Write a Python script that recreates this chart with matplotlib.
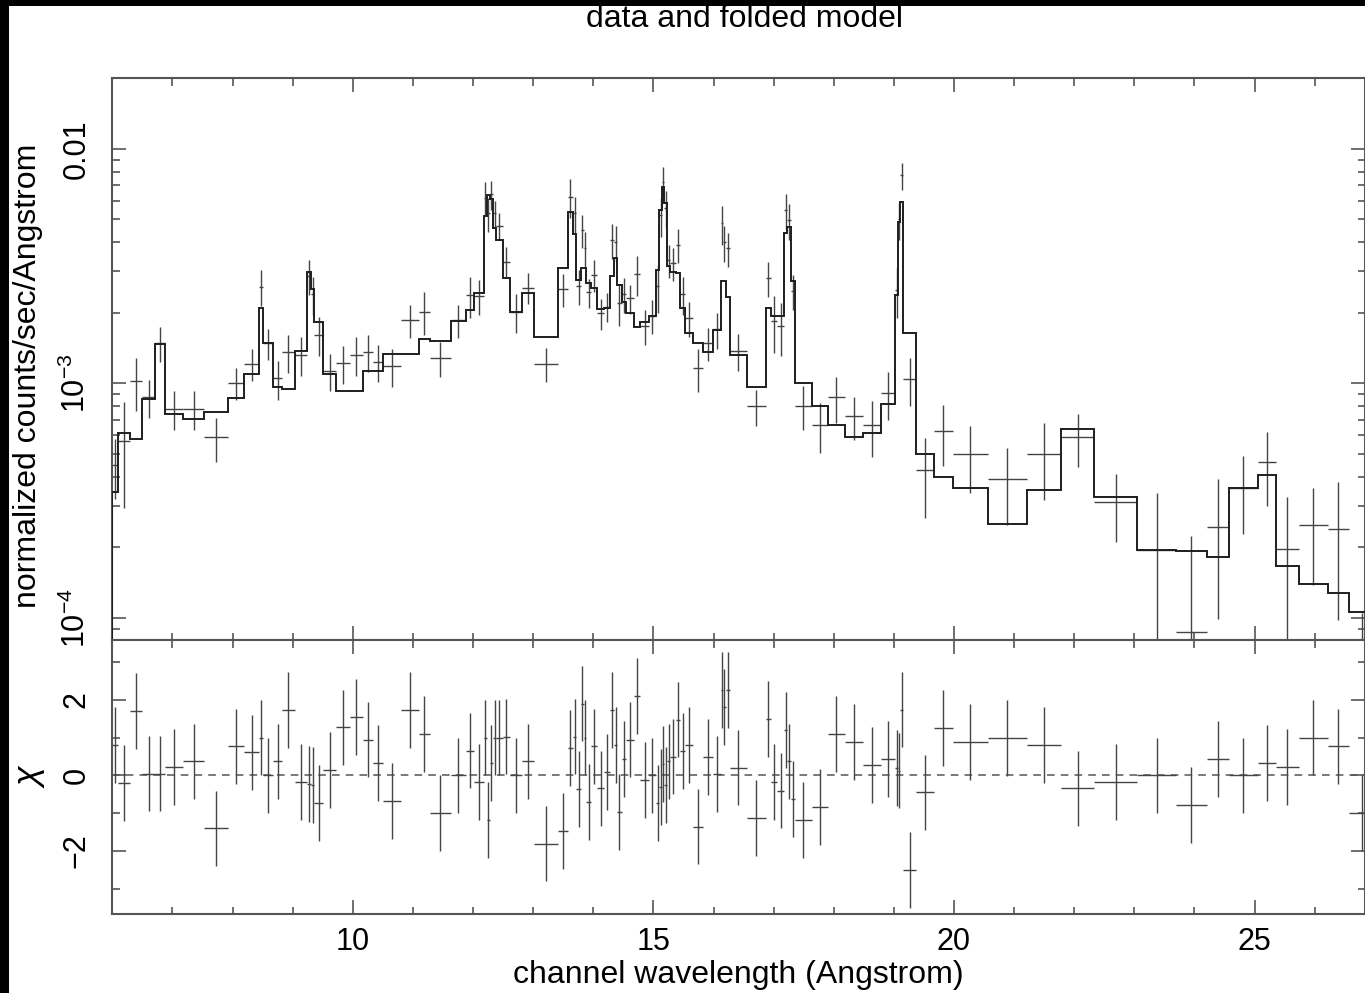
import numpy as np
import matplotlib
matplotlib.use('Agg')
import matplotlib.pyplot as plt
from matplotlib.ticker import MultipleLocator, LogLocator, FixedLocator, FixedFormatter, NullFormatter
from matplotlib.patches import Rectangle

plt.rcParams['font.family'] = ['Liberation Sans', 'DejaVu Sans']
plt.rcParams['mathtext.fontset'] = 'custom'
plt.rcParams['mathtext.rm'] = 'Liberation Sans'
plt.rcParams['mathtext.it'] = 'Liberation Sans:italic'

# channel bin edges (Angstrom)
edges = np.array([
    6.00, 6.10, 6.29, 6.50, 6.71, 6.88, 7.18, 7.53, 7.92, 8.19,
    8.44, 8.51, 8.68, 8.82, 9.04, 9.23, 9.30, 9.36, 9.51, 9.72,
    9.95, 10.17, 10.33, 10.50, 10.80, 11.10, 11.28, 11.63, 11.88, 12.01,
    12.18, 12.23, 12.28, 12.33, 12.39, 12.49, 12.61, 12.82, 13.01, 13.41,
    13.58, 13.66, 13.72, 13.80, 13.84, 13.88, 13.97, 14.07, 14.18, 14.28,
    14.34, 14.40, 14.47, 14.55, 14.67, 14.78, 14.93, 15.04, 15.10, 15.14,
    15.18, 15.23, 15.28, 15.38, 15.45, 15.52, 15.66, 15.82, 15.99, 16.13,
    16.16, 16.20, 16.27, 16.55, 16.87, 16.95, 17.06, 17.18, 17.23, 17.29,
    17.36, 17.63, 17.91, 18.18, 18.49, 18.78, 19.02, 19.07, 19.11, 19.16,
    19.37, 19.67, 19.98, 20.56, 21.22, 21.78, 22.33, 23.05, 23.69, 24.21,
    24.58, 25.05, 25.35, 25.74, 26.22, 26.57, 27.01])

# folded model, units of 1e-3 counts/sec/Angstrom
model = np.array([
    0.344, 0.612, 0.577, 0.854, 1.474, 0.739, 0.703, 0.752, 0.867, 1.091,
    2.10, 1.48, 0.966, 0.943, 1.37, 2.97, 2.52, 1.83, 1.10, 0.926,
    0.926, 1.127, 1.127, 1.34, 1.34, 1.54, 1.51, 1.85, 2.05, 2.42,
    5.17, 6.35, 6.10, 4.60, 4.08, 2.80, 2.02, 2.42, 1.58, 3.11,
    5.38, 4.32, 2.76, 3.11, 3.11, 2.68, 2.54, 2.08, 2.10, 2.87,
    3.43, 2.62, 2.23, 2.00, 1.74, 1.82, 1.94, 3.04, 5.48, 6.88,
    5.85, 3.16, 2.99, 2.94, 2.10, 1.64, 1.48, 1.36, 1.69, 2.73,
    2.73, 2.34, 1.32, 0.96, 2.10, 1.94, 1.94, 4.38, 4.63, 2.74,
    1.00, 0.80, 0.664, 0.591, 0.615, 0.815, 2.38, 4.88, 5.94, 1.64,
    0.497, 0.397, 0.358, 0.252, 0.352, 0.639, 0.329, 0.195, 0.193, 0.182,
    0.358, 0.407, 0.166, 0.139, 0.128, 0.106])

# data, units of 1e-3
data = np.array([
    0.45, 0.565, 1.02, 0.87, 1.48, 0.78, 0.78, 0.588, 1.005, 1.21,
    2.58, 1.48, 1.05, 1.36, 1.32, 2.87, 2.40, 1.61, 1.13, 1.216,
    1.32, 1.36, 1.23, 1.18, 1.86, 2.02, 1.285, 1.86, 2.37, 2.35,
    6.2, 5.3, 6.4, 5.3, 4.7, 3.3, 2.02, 2.56, 1.21, 2.52,
    6.25, 5.3, 2.6, 4.5, 3.76, 2.44, 2.9, 1.99, 2.12, 4.08,
    4.0, 2.2, 2.4, 2.3, 2.92, 1.76, 1.94, 2.6, 5.2, 7.2,
    5.6, 3.35, 3.25, 3.89, 2.4, 1.9, 1.157, 1.48, 1.70, 4.81,
    4.0, 3.76, 1.38, 0.80, 2.82, 1.85, 1.76, 5.5, 4.95, 2.48,
    0.80, 0.664, 0.87, 0.725, 0.664, 0.906, 2.5, 5.0, 7.7, 1.04,
    0.426, 0.626, 0.497, 0.389, 0.499, 0.588, 0.311, 0.195, 0.087, 0.244,
    0.358, 0.46, 0.197, 0.248, 0.238, 0.06])

err = np.array([
    0.13, 0.27, 0.26, 0.16, 0.25, 0.15, 0.15, 0.125, 0.16, 0.19,
    0.45, 0.22, 0.20, 0.25, 0.25, 0.48, 0.45, 0.30, 0.20, 0.22,
    0.25, 0.24, 0.22, 0.22, 0.30, 0.42, 0.22, 0.30, 0.48, 0.40,
    1.0, 0.9, 0.9, 0.7, 0.6, 0.5, 0.38, 0.38, 0.20, 0.40,
    1.2, 0.95, 0.45, 0.73, 0.65, 0.35, 0.45, 0.30, 0.30, 0.70,
    0.70, 0.44, 0.40, 0.32, 0.56, 0.30, 0.32, 0.60, 1.0, 1.2,
    1.0, 0.55, 0.52, 0.64, 0.45, 0.32, 0.24, 0.24, 0.30, 0.92,
    0.70, 0.63, 0.25, 0.14, 0.48, 0.50, 0.45, 0.94, 0.86, 0.42,
    0.17, 0.16, 0.19, 0.15, 0.18, 0.21, 0.6, 0.9, 1.0, 0.24,
    0.16, 0.18, 0.158, 0.14, 0.18, 0.15, 0.10, 0.145, 0.136, 0.145,
    0.13, 0.16, 0.13, 0.11, 0.14, 0.045])

# residuals in sigma
chi = np.array([
    0.8, -0.2, 1.7, 0.05, 0.05, 0.22, 0.37, -1.4, 0.77, 0.61,
    1.0, 0.0, 0.37, 1.73, -0.18, -0.22, -0.25, -0.73, 0.15, 1.27,
    1.55, 0.95, 0.33, -0.68, 1.73, 1.1, -1.0, 0.0, 0.66, -0.18,
    1.0, -1.18, 0.33, 1.0, 1.0, 1.03, 0.0, 0.37, -1.8, -1.46,
    0.73, 1.03, -0.35, 1.9, 1.0, -0.7, 0.77, -0.34, 0.1, 1.73,
    0.8, -0.96, 0.43, 0.95, 2.1, -0.12, 0.0, -0.72, -0.3, 0.3,
    -0.25, 0.37, 0.5, 1.48, 0.65, 0.8, -1.35, 0.49, 0.04, 2.26,
    1.81, 2.26, 0.21, -1.13, 1.5, -0.18, -0.4, 1.2, 0.37, -0.62,
    -1.18, -0.84, 1.1, 0.88, 0.27, 0.43, 0.2, 0.13, 1.74, -2.5,
    -0.45, 1.26, 0.88, 0.99, 0.81, -0.34, -0.18, 0.0, -0.78, 0.43,
    0.0, 0.33, 0.22, 1.0, 0.77, -1.0])

centers = (edges[:-1] + edges[1:]) / 2
half = (edges[1:] - edges[:-1]) / 2

axcol = '#555555'
fig = plt.figure(figsize=(13.65, 9.93), dpi=100)
ax1 = fig.add_axes([0.0823, 0.3555, 0.9174, 0.5657])
ax2 = fig.add_axes([0.0823, 0.0793, 0.9174, 0.2757], sharex=ax1)

# top panel: data and folded model
ax1.set_yscale('log')
ax1.stairs(model * 1e-3, edges, color='#1e1e1e', lw=1.4, zorder=3)
ax1.errorbar(centers, data * 1e-3, xerr=half, yerr=err * 1e-3, fmt='none',
             ecolor='#444444', elinewidth=1.0, capsize=0, zorder=2)
ax1.set_xlim(6.0, 26.83)
ax1.set_ylim(8.04e-5, 0.02)
ax1.yaxis.set_major_locator(FixedLocator([1e-4, 1e-3, 1e-2]))
ax1.yaxis.set_major_formatter(FixedFormatter(['10$^{-4}$', '10$^{-3}$', '0.01']))
ax1.yaxis.set_minor_locator(LogLocator(base=10, subs=np.arange(2, 10), numticks=20))
ax1.yaxis.set_minor_formatter(NullFormatter())

# bottom panel: residuals
ax2.axhline(0, color='#555555', lw=1.1, dashes=(5, 4), zorder=1)
ax2.errorbar(centers, chi, xerr=half, yerr=1.0, fmt='none',
             ecolor='#444444', elinewidth=1.0, capsize=0, zorder=2)
ax2.set_ylim(-3.67, 3.57)
ax2.yaxis.set_major_locator(MultipleLocator(2))
ax2.yaxis.set_minor_locator(MultipleLocator(1))

for ax in (ax1, ax2):
    ax.xaxis.set_major_locator(MultipleLocator(5))
    ax.xaxis.set_minor_locator(MultipleLocator(1))
    ax.tick_params(which='both', direction='in', top=True, right=True,
                   color=axcol, width=1.2, labelsize=22)
    ax.tick_params(which='major', length=10)
    ax.tick_params(which='minor', length=5.4)
    ax.tick_params(axis='y', labelrotation=90, pad=15)
    ax.tick_params(axis='x', pad=9)
    for sp in ax.spines.values():
        sp.set_color(axcol)
        sp.set_linewidth(1.5)
    for lab in ax.get_yticklabels():
        lab.set_va('center')

ax1.tick_params(labelbottom=False)
ax2.set_xlabel('channel wavelength (Angstrom)', fontsize=23, labelpad=2)

fig.text(28 / 1365, 1 - 376 / 993, 'normalized counts/sec/Angstrom',
         rotation=90, ha='center', va='center', fontsize=23)
fig.text(30 / 1365, 1 - 776 / 993, r'$\chi$', rotation=90,
         ha='center', va='center', fontsize=26, family='DejaVu Serif')
fig.text(745 / 1365, 1 - 27 / 993, 'data and folded model',
         ha='center', va='baseline', fontsize=23)

# black frame edges of the original screenshot
fig.add_artist(Rectangle((0, 0), 9 / 1365, 1, transform=fig.transFigure,
                         facecolor='black', edgecolor='none', zorder=10))
fig.add_artist(Rectangle((0, 1 - 6 / 993), 1, 6 / 993, transform=fig.transFigure,
                         facecolor='black', edgecolor='none', zorder=10))

fig.savefig('out.png', dpi=100)
